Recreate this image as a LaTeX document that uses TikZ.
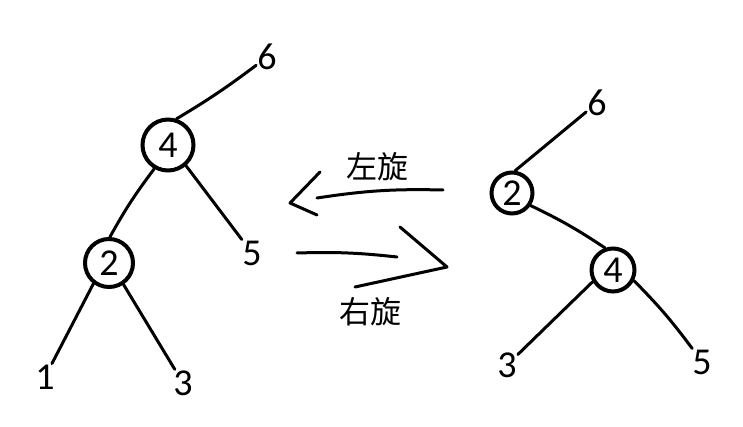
\documentclass[tikz,border=0pt]{standalone}
\usepackage{fontspec}
\setmainfont{Carlito}
\newfontfamily\cjk{Noto Sans CJK SC}
\begin{document}
\begin{tikzpicture}[x=1pt,y=-1pt,
  every node/.style={font=\fontsize{38}{38}\selectfont},
  circ/.style={draw,circle,line width=4pt,inner sep=0pt},
  leaf/.style={inner sep=1pt},
  edge/.style={line width=3pt,line cap=round,line join=round}]
\useasboundingbox (0,0) rectangle (743,427);
% left tree
\node[leaf] (l6) at (267,57) {6};
\node[circ, minimum size=51pt] (l4) at (168,145) {4};
\node[circ, minimum size=48pt] (l2) at (109,263) {2};
\node[leaf] (l5) at (252,253) {5};
\node[leaf] (l1) at (45,377) {1};
\node[leaf] (l3) at (183,383) {3};
\draw[edge] (l6) to[bend left=3] (l4.72);
\draw[edge] (l4.240) to[bend right=4] (l2.88);
\draw[edge] (l4.311) -- (l5);
\draw[edge] (l2.233) -- (l1);
\draw[edge] (l2.304) -- (l3);
% right tree
\node[leaf] (r6) at (597,103) {6};
\node[circ, minimum size=41pt] (r2) at (512,193) {2};
\node[circ, minimum size=43pt] (r4) at (613,270) {4};
\node[leaf] (r3) at (507,365) {3};
\node[leaf] (r5) at (702,362) {5};
\draw[edge] (r6) -- (r2.82);
\draw[edge] (r2.326) to[bend left=4] (r4.110);
\draw[edge] (r4.210) -- (r3);
\draw[edge] (r4.333) to[bend left=4] (r5);
% rotations
\coordinate (la0) at (443,190);
\coordinate (la1) at (317,198);
\coordinate (lh1) at (320,172);
\coordinate (lt) at (290,203);
\coordinate (lh2) at (317,215);
\draw[edge] (la0) to[bend right=5] (la1);
\draw[edge] (lh1) -- (lt) -- (lh2);
\node (lrot) at (377,167) {\cjk\fontsize{31}{31}\selectfont 左旋};
\coordinate (ra0) at (297,253);
\coordinate (ra1) at (397,257);
\coordinate (rh1) at (400,227);
\coordinate (rt) at (447,267);
\coordinate (rh2) at (355,287);
\draw[edge] (ra0) to[bend left=4] (ra1);
\draw[edge] (rh1) -- (rt) -- (rh2);
\node (rrot) at (370,312) {\cjk\fontsize{31}{31}\selectfont 右旋};
\end{tikzpicture}
\end{document}
